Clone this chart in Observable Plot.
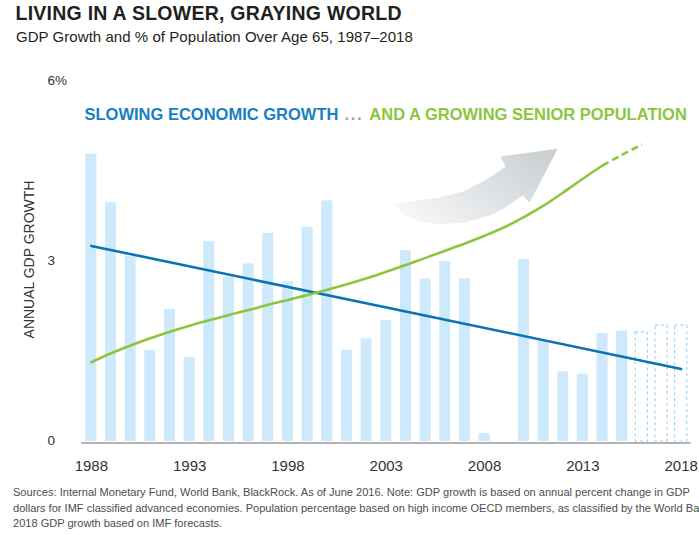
<!DOCTYPE html>
<html><head><meta charset="utf-8">
<script src="https://cdn.jsdelivr.net/npm/d3@7"></script>
<script src="https://cdn.jsdelivr.net/npm/@observablehq/plot@0.6"></script>
<style>
html,body{margin:0;padding:0;background:#fff;width:699px;height:535px;overflow:hidden;position:relative;font-family:"Liberation Sans",Arial,sans-serif;}
#title{position:absolute;left:15.5px;top:4px;font-size:19.5px;line-height:19.5px;font-weight:bold;letter-spacing:0.25px;color:#231f20;white-space:nowrap}
#subtitle{position:absolute;left:16px;top:29px;font-size:15px;line-height:15px;letter-spacing:0.05px;color:#231f20;white-space:nowrap}
#chart{position:absolute;left:0;top:56px}
#footer{position:absolute;left:13px;top:485px;font-size:11.05px;line-height:15.5px;color:#4d4d4d;white-space:nowrap}
</style></head>
<body>
<div id="title">LIVING IN A SLOWER, GRAYING WORLD</div>
<div id="subtitle">GDP Growth and % of Population Over Age 65, 1987–2018</div>
<div id="chart"></div>
<div id="footer"></div>
<script>
// ---- data ----
const gdpYears = [1988,1989,1990,1991,1992,1993,1994,1995,1996,1997,1998,1999,2000,2001,2002,2003,2004,2005,2006,2007,2008,2010,2011,2012,2013,2014,2015];
const gdpValues = [4.79,3.98,3.08,1.52,2.2,1.4,3.33,2.74,2.96,3.47,2.66,3.57,4.01,1.52,1.71,2.02,3.18,2.71,3.0,2.71,0.13,3.03,1.68,1.16,1.12,1.8,1.84];
const forecastYears = [2016,2017,2018];
const forecastValues = [1.82,1.93,1.93];
const trendYears = [1988,2018];
const trendValues = [3.26,1.21];
const seniorYears = [1988,1989,1990,1991,1992,1993,1994,1995,1996,1997,1998,1999,2000,2001,2002,2003,2004,2005,2006,2007,2008,2009,2010,2011,2012,2013,2014];
const seniorValues = [1.32,1.47,1.60,1.72,1.83,1.93,2.02,2.11,2.19,2.28,2.36,2.44,2.53,2.62,2.72,2.83,2.94,3.06,3.18,3.30,3.43,3.57,3.74,3.93,4.15,4.38,4.60];
const seniorProjYears = [2014,2015,2016];
const seniorProjValues = [4.60,4.78,4.95];
const arrowYears = [2003.37,2004.39,2005.76,2007.03,2008.15,2009.07,2008.81,2011.72,2010.29,2009.93,2009.07,2008.31,2007.03,2005.76,2004.74,2003.98];
const arrowValues = [3.97,4.01,4.07,4.18,4.38,4.58,4.75,4.88,3.98,4.10,3.90,3.77,3.65,3.62,3.65,3.77];
const xTicks = [1988,1993,1998,2003,2008,2013,2018];
const yTicks = [0,3,6];
const yTickLabels = ["0","3","6%"];
const yTitle = "ANNUAL GDP GROWTH";
const annotationParts = ["SLOWING ECONOMIC GROWTH"," ... ","AND A GROWING SENIOR POPULATION"];
const annotationValue = 5.36;
const footerLines = [
  "Sources: Internal Monetary Fund, World Bank, BlackRock. As of June 2016. Note: GDP growth is based on annual percent change in GDP",
  "dollars for IMF classified advanced economies. Population percentage based on high income OECD members, as classified by the World Bank.",
  "2018 GDP growth based on IMF forecasts."
];

// ---- tables ----
const zip = (xs, ys) => xs.map((year, i) => ({year, value: ys[i]}));
const gdp = zip(gdpYears, gdpValues);
const forecast = zip(forecastYears, forecastValues);
const trend = zip(trendYears, trendValues);
const senior = zip(seniorYears, seniorValues);
const seniorProj = zip(seniorProjYears, seniorProjValues);
const arrow = zip(arrowYears, arrowValues);

const plot = Plot.plot({
  width: 699, height: 420,
  marginLeft: 81, marginRight: 8.5, marginTop: 25, marginBottom: 35,
  style: {fontFamily: "'Liberation Sans', Arial, sans-serif", fontSize: "15px", color: "#333", background: "transparent", overflow: "visible"},
  x: {type: "linear", domain: [1987.5, 2018.5], ticks: xTicks, tickFormat: d => String(d), tickSize: 0, tickPadding: 19, label: null},
  y: {domain: [0, 6], axis: null},
  marks: [
    Plot.rect(gdp, {x1: d => d.year - 0.28, x2: d => d.year + 0.28, y1: d => 0, y2: "value", fill: "#cde9fb"}),
    Plot.rect(forecast, {x1: d => d.year - 0.31, x2: d => d.year + 0.31, y1: d => 0, y2: "value", fill: "none", stroke: "#9fd4f3", strokeWidth: 1.2, strokeDasharray: "3,3"}),
    Plot.ruleY([0], {stroke: "#9a9a9a", strokeWidth: 1.5, dy: 1.5}),
    Plot.line(arrow, {x: "year", y: "value", fill: "url(#arrowGrad)", stroke: "none", curve: "linear"}),
    Plot.line(trend, {x: "year", y: "value", stroke: "#0b72b5", strokeWidth: 2.6}),
    Plot.line(senior, {x: "year", y: "value", stroke: "#8cc63f", strokeWidth: 2.6, curve: "monotone-x"}),
    Plot.line(seniorProj, {x: "year", y: "value", stroke: "#8cc63f", strokeWidth: 2.6, curve: "monotone-x", strokeDasharray: "7,4", strokeLinecap: "butt"}),
    Plot.text(yTicks, {y: d => d, text: (d, i) => yTickLabels[i], frameAnchor: "left", dx: -34, dy: -1, textAnchor: "start", fontSize: 13.5, fill: "#333"}),
    Plot.text([yTitle], {text: d => d, frameAnchor: "left", textAnchor: "middle", dx: -52, dy: -2, rotate: -90, fontSize: 14, fill: "#333"}),
    Plot.text([annotationParts.join("")], {text: d => d, y: d => annotationValue, frameAnchor: "left", dx: 3, textAnchor: "start", lineAnchor: "bottom", fontSize: 16.5, fontWeight: "bold", fill: "#1a7fc1"})
  ]
});

// gradient for the decorative arrow
const defs = d3.select(plot).insert("defs", ":first-child");
const grad = defs.append("linearGradient").attr("id", "arrowGrad")
  .attr("x1", "0").attr("y1", "0.8").attr("x2", "1").attr("y2", "0.2");
grad.append("stop").attr("offset", "0").attr("stop-color", "#f6f7f8");
grad.append("stop").attr("offset", "1").attr("stop-color", "#cbd0d3");

// colour the annotation parts
const partColors = ["#1a7fc1", "#a0a0a0", "#8cc63f"];
const ann = Array.from(plot.querySelectorAll("text")).find(e => e.textContent.startsWith("SLOWING"));
if (ann) {
  ann.textContent = "";
  annotationParts.forEach((p, i) => {
    const ts = document.createElementNS("http://www.w3.org/2000/svg", "tspan");
    ts.textContent = p;
    ts.setAttribute("fill", partColors[i]);
    if (i === 1) ts.setAttribute("letter-spacing", "1.6");
    ann.appendChild(ts);
  });
  ann.setAttribute("xml:space", "preserve");
  ann.style.whiteSpace = "pre";
}

document.getElementById("chart").appendChild(plot);
const footer = document.getElementById("footer");
footerLines.forEach(l => { const d = document.createElement("div"); d.textContent = l; footer.appendChild(d); });
</script>
</body></html>
